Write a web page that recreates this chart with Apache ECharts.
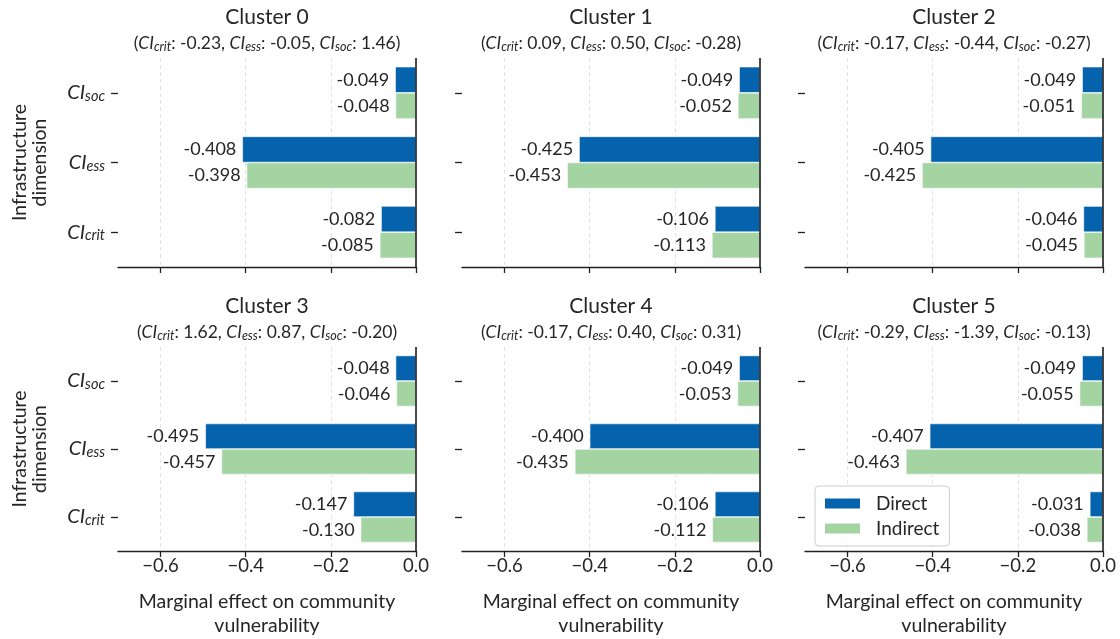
<!DOCTYPE html>
<html>
<head>
<meta charset="utf-8">
<script src="https://cdn.jsdelivr.net/npm/echarts@6/dist/echarts.min.js"></script>
<style>
  html, body { margin: 0; padding: 0; background: #fff; }
  #chart { width: 1120px; height: 639px; }
</style>
</head>
<body>
<div id="chart"></div>
<script>
// categories, bottom to top
var dims = ['crit', 'ess', 'soc'];
var clusters = ['Cluster 0', 'Cluster 1', 'Cluster 2', 'Cluster 3', 'Cluster 4', 'Cluster 5'];
// cluster centroids shown in the subtitles (crit, ess, soc)
var centroids = [
    [-0.23, -0.05, 1.46],
    [0.09, 0.50, -0.28],
    [-0.17, -0.44, -0.27],
    [1.62, 0.87, -0.20],
    [-0.17, 0.40, 0.31],
    [-0.29, -1.39, -0.13]
];
// marginal effects (crit, ess, soc)
var direct = [
    [-0.082, -0.408, -0.049],
    [-0.106, -0.425, -0.049],
    [-0.046, -0.405, -0.049],
    [-0.147, -0.495, -0.048],
    [-0.106, -0.400, -0.049],
    [-0.031, -0.407, -0.049]
];
var indirect = [
    [-0.085, -0.398, -0.048],
    [-0.113, -0.453, -0.052],
    [-0.045, -0.425, -0.051],
    [-0.130, -0.457, -0.046],
    [-0.112, -0.435, -0.053],
    [-0.038, -0.463, -0.055]
];
var xTicks = [-0.6, -0.4, -0.2, 0];

var FONT = 'Lato';
var TXT = '#262626';
var BLUE = '#0563ae';
var GREEN = '#a5d4a3';

var chart = echarts.init(document.getElementById('chart'));

var colLeft = [118, 462, 805];
var rowTop = [58, 347];
var W = 298, H = 209;

var grids = [], xAxes = [], yAxes = [], series = [], titles = [];

clusters.forEach(function (name, i) {
    var col = i % 3, row = Math.floor(i / 3);
    grids.push({ left: colLeft[col], top: rowTop[row], width: W, height: H, containLabel: false });

    var c = centroids[i];
    var sub = '(' + dims.map(function (d, k) {
        return '{i|CI}{s|' + d + '}: ' + c[k].toFixed(2);
    }).join(', ') + ')';
    titles.push({
        text: name,
        subtext: sub,
        left: colLeft[col] + W / 2,
        top: rowTop[row] - 51,
        textAlign: 'center',
        itemGap: 5,
        padding: 0,
        textStyle: { fontFamily: FONT, fontSize: 21, fontWeight: 'normal', color: TXT },
        subtextStyle: {
            fontFamily: FONT, fontSize: 17.5, color: TXT, lineHeight: 20,
            rich: {
                i: { fontFamily: FONT, fontSize: 17.5, fontStyle: 'italic', color: TXT, lineHeight: 20 },
                s: { fontFamily: FONT, fontSize: 12.5, fontStyle: 'italic', color: TXT, verticalAlign: 'bottom', lineHeight: 15 }
            }
        }
    });

    xAxes.push({
        type: 'value',
        gridIndex: i,
        min: -0.7,
        max: 0,
        name: row === 1 ? 'Marginal effect on community\nvulnerability' : '',
        nameLocation: 'middle',
        nameGap: 39,
        nameTextStyle: { fontFamily: FONT, fontSize: 19.5, color: TXT, lineHeight: 24 },
        axisLine: { show: true, onZero: false, lineStyle: { color: '#222', width: 1.3 } },
        axisTick: { show: true, length: 6, customValues: xTicks, lineStyle: { color: '#222', width: 1.3 } },
        axisLabel: {
            show: row === 1,
            customValues: xTicks,
            margin: 6,
            fontFamily: FONT, fontSize: 18.5, color: TXT,
            formatter: function (v) { return v === 0 ? '0.0' : '\u2212' + Math.abs(v).toFixed(1); }
        },
        splitLine: { show: true, lineStyle: { color: '#dcdcdc', type: [4, 3], width: 0.8 } }
    });

    yAxes.push({
        type: 'category',
        gridIndex: i,
        position: 'left',
        data: dims,
        name: col === 0 ? 'Infrastructure\ndimension' : '',
        nameLocation: 'middle',
        nameGap: 68,
        nameTextStyle: { fontFamily: FONT, fontSize: 19.5, color: TXT, lineHeight: 20 },
        // spine hidden, ticks kept at the left edge
        axisLine: { show: true, onZero: false, lineStyle: { color: 'rgba(0,0,0,0)', width: 0 } },
        axisTick: { show: true, inside: false, alignWithLabel: true, length: 7, lineStyle: { color: '#222', width: 1.3 } },
        axisLabel: {
            show: col === 0,
            margin: 13,
            formatter: function (v) { return '{i|CI}{s|' + v + '}'; },
            rich: {
                i: { fontFamily: FONT, fontSize: 20, fontStyle: 'italic', color: TXT, lineHeight: 22 },
                s: { fontFamily: FONT, fontSize: 14.5, fontStyle: 'italic', color: TXT, verticalAlign: 'bottom', lineHeight: 16 }
            }
        },
        splitLine: { show: false },
        z: 5
    });

    var lbl = {
        show: true,
        position: 'left',
        distance: 6,
        fontFamily: FONT, fontSize: 18, color: TXT,
        formatter: function (p) { return p.value.toFixed(3); }
    };

    series.push({
        name: 'Direct',
        type: 'bar',
        xAxisIndex: i,
        yAxisIndex: i,
        data: direct[i],
        barGap: '0%',
        barCategoryGap: '25%',
        itemStyle: { color: BLUE, borderColor: '#fff', borderWidth: 0.6 },
        label: lbl,
        markLine: {
            silent: true,
            symbol: 'none',
            label: { show: false },
            lineStyle: { color: '#111', type: 'solid', width: 1.5 },
            data: [{ xAxis: 0 }]
        }
    });
    series.push({
        name: 'Indirect',
        type: 'bar',
        xAxisIndex: i,
        yAxisIndex: i,
        data: indirect[i],
        barGap: '0%',
        barCategoryGap: '25%',
        itemStyle: { color: GREEN, borderColor: '#fff', borderWidth: 0.6 },
        label: lbl
    });
});

var option = {
    animation: false,
    backgroundColor: '#fff',
    textStyle: { fontFamily: FONT },
    title: titles,
    grid: grids,
    xAxis: xAxes,
    yAxis: yAxes,
    legend: {
        data: ['Direct', 'Indirect'],
        orient: 'vertical',
        left: 815,
        top: 486,
        itemWidth: 37,
        itemHeight: 12,
        itemGap: 6,
        padding: [8, 10, 8, 8],
        borderColor: '#cccccc',
        borderWidth: 1,
        borderRadius: 4,
        backgroundColor: 'rgba(255,255,255,0.85)',
        icon: 'rect',
        textStyle: { fontFamily: FONT, fontSize: 19, color: TXT, padding: [0, 0, 0, 10] }
    },
    series: series
};

chart.setOption(option);
</script>
</body>
</html>
